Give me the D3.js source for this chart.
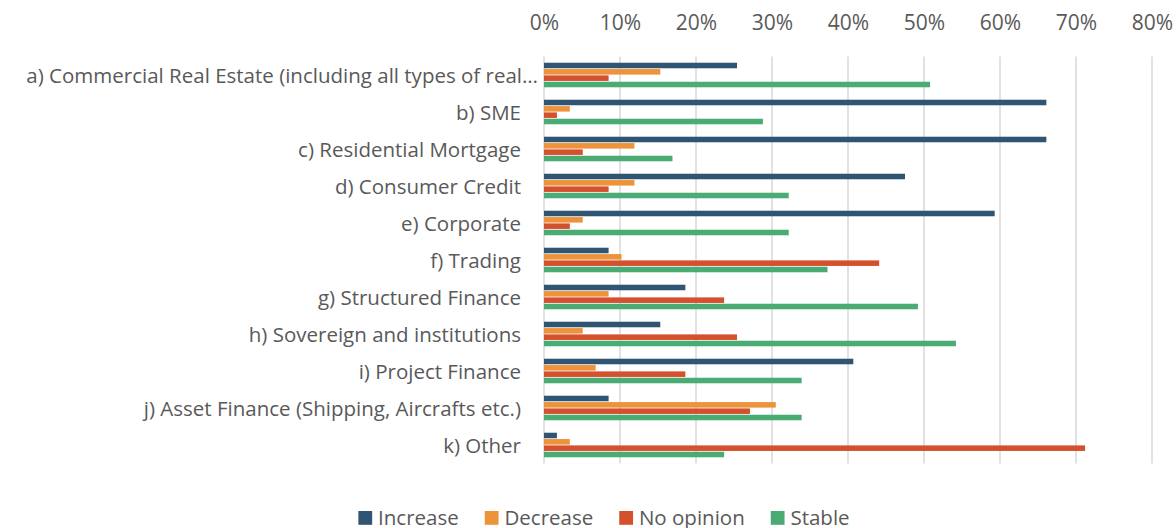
<!DOCTYPE html>
<html lang="en">
<head>
<meta charset="utf-8">
<title>Lending outlook by portfolio</title>
<script src="https://d3js.org/d3.v7.min.js"></script>
<style>
  body { margin: 0; background: #fff; }
  text { font-family: 'Open Sans', sans-serif; fill: #595959; }
</style>
</head>
<body>
<script>
// categories (top to bottom)
var categories = [
  "a) Commercial Real Estate (including all types of real\u2026",
  "b) SME",
  "c) Residential Mortgage",
  "d) Consumer Credit",
  "e) Corporate",
  "f) Trading",
  "g) Structured Finance",
  "h) Sovereign and institutions",
  "i) Project Finance",
  "j) Asset Finance (Shipping, Aircrafts etc.)",
  "k) Other"
];

// series values, percent of respondents
var increase  = [25.4, 66.1, 66.1, 47.5, 59.3, 8.5, 18.6, 15.3, 40.7, 8.5, 1.7];
var decrease  = [15.3, 3.4, 11.9, 11.9, 5.1, 10.2, 8.5, 5.1, 6.8, 30.5, 3.4];
var noOpinion = [8.5, 1.7, 5.1, 8.5, 3.4, 44.1, 23.7, 25.4, 18.6, 27.1, 71.2];
var stable    = [50.8, 28.8, 16.9, 32.2, 32.2, 37.3, 49.2, 54.2, 33.9, 33.9, 23.7];

var seriesNames = ["Increase", "Decrease", "No opinion", "Stable"];
var seriesColors = ["#2F5573", "#ED943B", "#D5502C", "#4AAB73"];
var xTicks = [0, 10, 20, 30, 40, 50, 60, 70, 80];

var W = 1176, H = 528;
var plotLeft = 544, plotRight = 1152, plotTop = 56.5, plotBottom = 463.5;

var svg = d3.select("body").append("svg")
  .attr("width", W).attr("height", H);

var x = d3.scaleLinear().domain([0, 80]).range([plotLeft, plotRight]);

var y0 = d3.scaleBand()
  .domain(categories)
  .range([plotTop, plotBottom])
  .paddingInner(0.315)
  .paddingOuter(0.1575);

var y1 = d3.scaleBand()
  .domain(seriesNames)
  .range([0, y0.bandwidth()]);

var color = d3.scaleOrdinal().domain(seriesNames).range(seriesColors);

//gridlines
svg.append("g")
  .selectAll("line")
  .data(xTicks)
  .join("line")
  .attr("x1", d => x(d)).attr("x2", d => x(d))
  .attr("y1", plotTop).attr("y2", plotBottom)
  .attr("stroke", "#d9d9d9")
  .attr("stroke-width", 1.5);

//top axis labels
var xAxis = d3.axisTop(x)
  .tickValues(xTicks)
  .tickSize(0)
  .tickPadding(0)
  .tickFormat(d => d + "%");

svg.append("g")
  .attr("transform", "translate(0,30)")
  .call(xAxis)
  .call(g => g.select(".domain").remove())
  .selectAll("text")
  .attr("font-family", "'Open Sans', sans-serif")
  .attr("font-size", 21)
  .attr("fill", "#595959");

//category labels (the truncated one sits a bit further right, as in the original)
svg.append("g")
  .selectAll("text")
  .data(categories)
  .join("text")
  .attr("x", d => d.endsWith("\u2026") ? 538 : 521)
  .attr("y", d => y0(d) + y0.bandwidth() / 2 + 1)
  .attr("dy", "0.35em")
  .attr("text-anchor", "end")
  .attr("font-size", 20.5)
  .text(d => d);

// build rows for grouped bars
var table = categories.map(function(c, i) {
  return { cat: c, values: [
    { key: "Increase", v: increase[i] },
    { key: "Decrease", v: decrease[i] },
    { key: "No opinion", v: noOpinion[i] },
    { key: "Stable", v: stable[i] }
  ]};
});

var groups = svg.append("g")
  .selectAll("g")
  .data(table)
  .join("g")
  .attr("transform", d => "translate(0," + y0(d.cat) + ")");

groups.selectAll("rect")
  .data(d => d.values)
  .join("rect")
  .attr("x", x(0))
  .attr("y", d => y1(d.key) + 0.4)
  .attr("width", d => x(d.v) - x(0))
  .attr("height", y1.bandwidth() - 0.8)
  .attr("fill", d => color(d.key));

//legend
var legend = svg.append("g");
var items = legend.selectAll("g")
  .data(seriesNames)
  .join("g");

items.append("rect")
  .attr("width", 13.8).attr("height", 13.8)
  .attr("y", 511)
  .attr("fill", d => color(d));

items.append("text")
  .attr("x", 19.7)
  .attr("y", 524.5)
  .attr("font-size", 20.5)
  .text(d => d);

var offsets = [], pos = 0;
items.each(function() {
  offsets.push(pos);
  pos += this.getBBox().width + 26;
});
var total = pos - 26;
var startX = 604 - total / 2;
items.attr("transform", (d, i) => "translate(" + (startX + offsets[i]) + ",0)");
</script>
</body>
</html>
